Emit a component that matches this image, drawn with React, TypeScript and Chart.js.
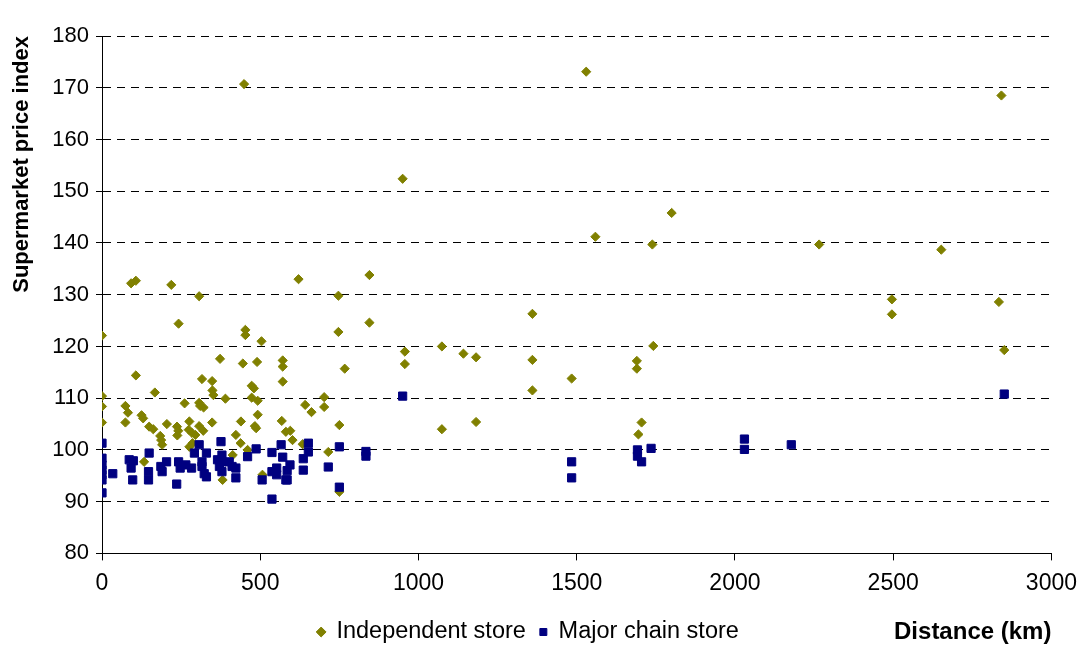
import React, { useEffect, useRef } from 'react';
import { Chart, registerables } from 'chart.js';

Chart.register(...registerables);

// ---- data ----
const independentDistance = [
  0, 0, 0, 0, 74, 74, 82, 92, 107, 107, 125, 130, 133, 149, 162, 167, 184, 187, 190, 205,
  219, 237, 241, 238, 242, 261, 274, 276, 276, 284, 286, 295, 307, 307, 310, 321, 307, 320,
  316, 348, 348, 349, 352, 373, 381, 390, 413, 423, 438, 439, 445, 449, 453, 453, 460, 473,
  480, 473, 483, 487, 490, 492, 492, 504, 507, 568, 571, 571, 571, 581, 595, 602, 621, 634,
  642, 662, 702, 702, 715, 747, 747, 750, 750, 767, 845, 845, 950, 957, 957, 1074, 1074, 1142,
  1182, 1182, 1360, 1360, 1360, 1484, 1530, 1559, 1690, 1690, 1695, 1705, 1739, 1742, 1800,
  2266, 2496, 2496, 2652, 2834, 2842, 2851,
];
const independentIndex = [
  122.1, 110.4, 108.4, 105.3, 108.5, 105.3, 107.2, 132.2, 132.7, 114.4, 106.7, 106.1, 97.7,
  104.5, 104.0, 111.1, 102.7, 101.9, 101.0, 105.0, 131.9, 104.5, 103.7, 102.8, 124.4, 109.0,
  103.9, 105.5, 100.6, 103.3, 101.3, 102.9, 129.7, 109.1, 108.5, 108.2, 104.6, 103.7, 113.7,
  113.3, 105.3, 111.5, 110.6, 117.6, 94.2, 109.9, 99.0, 102.9, 101.3, 105.5, 116.7, 170.7,
  123.2, 122.2, 100.0, 112.4, 111.9, 110.1, 104.6, 104.2, 117.0, 109.5, 106.8, 121.0, 95.2,
  105.6, 117.3, 116.1, 113.2, 103.5, 103.7, 101.9, 133.0, 101.1, 108.7, 107.3, 110.2, 108.3,
  99.6, 129.8, 122.8, 104.8, 91.9, 115.7, 133.8, 124.6, 152.4, 119.0, 116.6, 120.0, 104.0,
  118.6, 117.9, 105.4, 126.3, 117.4, 111.5, 113.8, 173.1, 141.2, 117.2, 115.7, 103.0, 105.3,
  139.7, 120.1, 145.8, 139.7, 129.1, 126.2, 138.7, 128.6, 168.5, 119.3,
];
const chainDistance = [
  0, 0, 0, 0, 0, 0, 0, 34, 86, 92, 99, 97, 149, 147, 147, 186, 190, 204, 236, 242, 247, 265,
  283, 292, 307, 316, 316, 323, 330, 330, 365, 371, 376, 379, 379, 379, 402, 411, 423, 423,
  460, 487, 506, 537, 537, 552, 552, 566, 571, 581, 537, 594, 585, 585, 652, 652, 636, 636,
  715, 750, 750, 834, 834, 950, 1484, 1484, 1692, 1692, 1705, 1735, 2030, 2030, 2178, 2851,
];
const chainIndex = [
  101.3, 98.4, 97.1, 96.1, 95.2, 94.2, 91.7, 95.4, 98.1, 96.5, 97.9, 94.2, 99.4, 95.8, 94.2,
  96.8, 95.8, 97.7, 93.4, 97.7, 96.5, 97.1, 96.5, 99.4, 101.0, 97.7, 96.8, 95.4, 99.4, 94.8,
  98.1, 96.8, 101.6, 99.0, 97.7, 95.8, 97.7, 96.8, 96.5, 94.6, 98.7, 100.2, 94.2, 99.5, 95.8,
  96.5, 95.2, 101.0, 98.6, 94.2, 90.5, 97.1, 96.0, 94.2, 101.3, 99.6, 98.3, 96.1, 96.7, 100.6,
  92.8, 99.7, 98.8, 110.4, 97.7, 94.6, 100.0, 98.8, 97.7, 100.3, 102.1, 100.1, 101.0, 110.8,
];
const seriesNames = ['Independent store', 'Major chain store'];
const xTickValues = [0, 500, 1000, 1500, 2000, 2500, 3000];
const yTickValues = [80, 90, 100, 110, 120, 130, 140, 150, 160, 170, 180];
const xTitle = 'Distance (km)';
const yTitle = 'Supermarket price index';

const FONT = '"Liberation Sans", Arial, sans-serif';
const OLIVE = '#808000';
const NAVY = '#000080';

const legendPlace = {
  id: 'legendPlace',
  beforeDraw(chart: any) {
    const l = chart.legend;
    if (!l) return;
    const h = l.bottom - l.top;
    l.top = 606.25;
    l.bottom = 606.25 + h;
    l.left = 0;
    l.right = 1056.5;
  },
};

export default function App() {
  const ref = useRef<HTMLCanvasElement | null>(null);

  useEffect(() => {
    document.body.style.margin = '0';
    const canvas = ref.current;
    if (!canvas) return;

    const toPoints = (xs: number[], ys: number[]) => xs.map((x, i) => ({ x, y: ys[i] }));

    const chart = new Chart(canvas, {
      type: 'scatter',
      data: {
        datasets: [
          {
            label: seriesNames[0],
            data: toPoints(independentDistance, independentIndex),
            pointStyle: 'rectRot',
            pointRadius: 4.6,
            backgroundColor: OLIVE,
            borderColor: OLIVE,
            borderWidth: 1,
            order: 1,
          },
          {
            label: seriesNames[1],
            data: toPoints(chainDistance, chainIndex),
            pointStyle: 'rect',
            pointRadius: 5.8,
            backgroundColor: NAVY,
            borderColor: NAVY,
            borderWidth: 1,
            order: 0,
          },
        ],
      },
      options: {
        responsive: false,
        animation: false,
        events: [],
        layout: { padding: { top: 36, right: 34, bottom: 0, left: 0 } },
        plugins: {
          tooltip: { enabled: false },
          legend: {
            display: true,
            position: 'bottom',
            align: 'center',
            labels: {
              usePointStyle: true,
              boxWidth: 7,
              boxHeight: 7,
              padding: 14,
              color: '#000',
              font: { family: FONT, size: 23.5 },
              sort: (a: any, b: any) => a.datasetIndex - b.datasetIndex,
            },
          },
        },
        scales: {
          x: {
            type: 'linear',
            min: xTickValues[0],
            max: xTickValues[xTickValues.length - 1],
            afterBuildTicks: (scale: any) => {
              scale.ticks = xTickValues.map((v) => ({ value: v }));
            },
            afterFit: (scale: any) => {
              scale.height = 45.1;
            },
            ticks: {
              color: '#000',
              font: { family: FONT, size: 23 },
              padding: 9,
              maxRotation: 0,
              callback: (v: any) => String(v),
            },
            grid: {
              drawOnChartArea: false,
              drawTicks: true,
              tickLength: 7,
              tickColor: '#000',
              tickWidth: 1,
              color: '#000',
            },
            border: { display: true, color: '#000', width: 1 },
            title: {
              display: true,
              text: xTitle,
              align: 'end',
              color: '#000',
              font: { family: FONT, size: 24, weight: 'bold' },
              padding: { top: 0, bottom: -47.9 },
            },
          },
          y: {
            type: 'linear',
            min: yTickValues[0],
            max: yTickValues[yTickValues.length - 1],
            afterBuildTicks: (scale: any) => {
              scale.ticks = yTickValues.map((v) => ({ value: v }));
            },
            afterFit: (scale: any) => {
              scale.width = 102;
            },
            ticks: {
              color: '#000',
              font: { family: FONT, size: 22 },
              padding: 7,
              callback: (v: any) => String(v),
            },
            grid: {
              drawOnChartArea: true,
              drawTicks: true,
              tickLength: 6,
              tickColor: '#000',
              tickWidth: 1,
              tickBorderDash: [],
              color: '#000',
              lineWidth: 1,
            },
            border: { display: true, color: '#000', width: 1, dash: [8, 6] },
            title: {
              display: true,
              text: yTitle,
              align: 'end',
              color: '#000',
              font: { family: FONT, size: 22, weight: 'bold' },
              padding: { top: 9, bottom: 0 },
            },
          },
        },
      },
      plugins: [legendPlace],
    });

    return () => chart.destroy();
  }, []);

  return (
    <div style={{ position: 'absolute', left: 0, top: 0, width: 1086, height: 646, background: '#fff' }}>
      <canvas ref={ref} width={1086} height={646} style={{ display: 'block' }} />
    </div>
  );
}
